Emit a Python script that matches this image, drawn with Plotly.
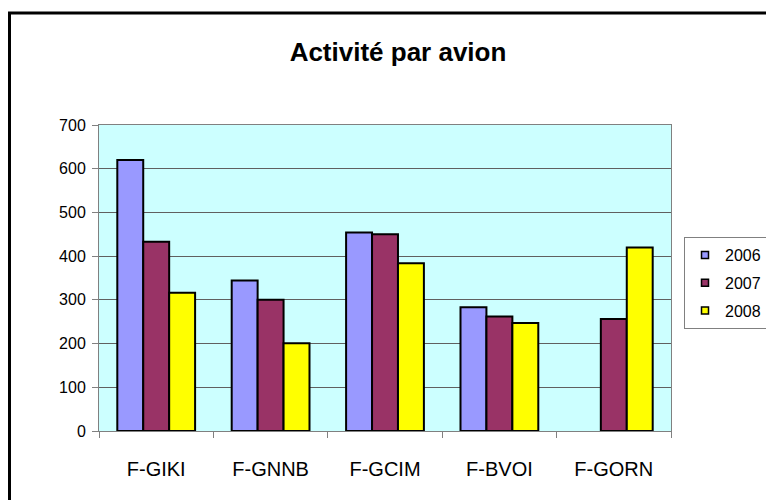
import plotly.graph_objects as go

categories = ["F-GIKI", "F-GNNB", "F-GCIM", "F-BVOI", "F-GORN"]
years = ["2006", "2007", "2008"]
values_2006 = [620, 344, 454, 283, None]
values_2007 = [433, 300, 450, 262, 256]
values_2008 = [316, 201, 384, 247, 420]
y_ticks = [0, 100, 200, 300, 400, 500, 600, 700]

colors = ["#9999FF", "#993366", "#FFFF00"]
series = [values_2006, values_2007, values_2008]

fig = go.Figure()
for name, vals, col in zip(years, series, colors):
    fig.add_trace(go.Bar(
        name=name, x=categories, y=vals,
        marker=dict(color=col, line=dict(color="black", width=2)),
        showlegend=False,
    ))
# legend entries with small square swatches (Excel style)
for name, col in zip(years, colors):
    fig.add_trace(go.Scatter(
        name=name, x=[None], y=[None], mode="markers",
        marker=dict(symbol="square", size=7, color=col,
                    line=dict(color="black", width=1.5)),
        legendgroup=name, showlegend=True,
    ))

FONT = "Liberation Sans, Arial, sans-serif"
W, H = 766, 492
L, T, PW, PH = 91, 117, 572, 306
fig.update_layout(
    width=W, height=H,
    margin=dict(l=L, r=W - L - PW, t=T, b=H - T - PH, autoexpand=False),
    paper_bgcolor="white",
    plot_bgcolor="#CCFFFF",
    barmode="group",
    bargap=0.32,
    bargroupgap=0,
    font=dict(family=FONT, color="black", size=16),
    title=dict(text="<b>Activité par avion</b>", font=dict(size=26, family=FONT),
               x=390 / W, xref="container", xanchor="center",
               y=1 - 44 / H, yref="container", yanchor="middle"),
    legend=dict(x=(676 - L) / PW, y=(T + PH - 229) / PH, xanchor="left", yanchor="top",
                bordercolor="#808080", borderwidth=1, bgcolor="white",
                font=dict(size=16), traceorder="grouped", tracegroupgap=4),
    showlegend=True,
)
fig.update_yaxes(range=[0, 700], tickvals=y_ticks, showgrid=True,
                 gridcolor="#606060", gridwidth=1,
                 showline=True, linecolor="#808080", linewidth=1, mirror=True,
                 ticks="outside", ticklen=6, tickcolor="#808080",
                 ticklabelstandoff=3, zeroline=False,
                 tickfont=dict(size=16))
fig.update_xaxes(showline=True, linecolor="#808080", linewidth=1, mirror=True,
                 ticks="outside", ticklen=6, tickcolor="#808080",
                 tickson="boundaries", ticklabelstandoff=20,
                 tickfont=dict(size=20))

# Outer chart frame (extends past the visible crop on right/bottom)
fig.add_shape(type="rect", xref="paper", yref="paper",
              x0=(1.5 - L) / PW, x1=1.5, y0=-0.5, y1=(T + PH - 5) / PH,
              line=dict(color="black", width=3), layer="below")

fig.write_html("out.html")
